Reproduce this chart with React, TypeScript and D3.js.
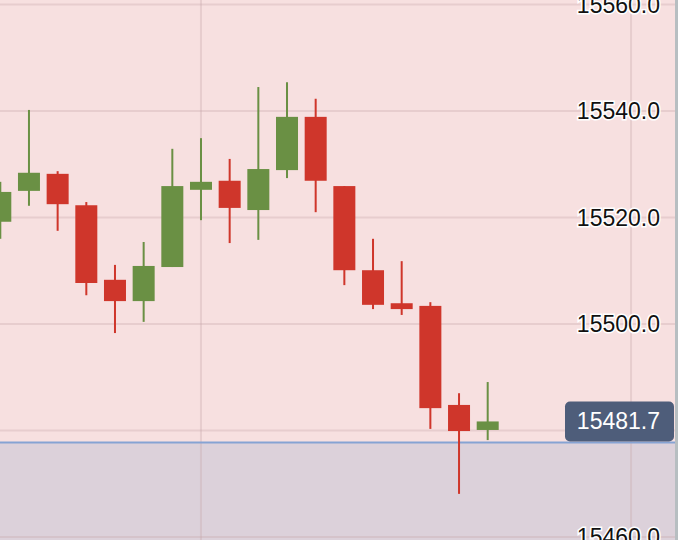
// @ts-nocheck
import React, { useEffect, useRef } from 'react'
import * as d3 from 'd3'

// candle values (oldest first)
const opens = [15519.2, 15525.0, 15528.2, 15522.3, 15508.3, 15504.3, 15510.7, 15525.2, 15526.9, 15521.4, 15528.9, 15538.9, 15525.9, 15510.1, 15503.9, 15503.4, 15484.8, 15480.1]
const highs = [15526.7, 15540.2, 15528.7, 15522.9, 15511.1, 15515.4, 15532.9, 15534.9, 15531.0, 15544.5, 15545.4, 15542.3, 15525.9, 15516.0, 15511.8, 15504.1, 15487.0, 15489.1]
const lows = [15516.0, 15522.2, 15517.5, 15505.4, 15498.3, 15500.4, 15510.7, 15519.5, 15515.2, 15515.8, 15527.4, 15521.0, 15507.3, 15502.8, 15501.7, 15480.3, 15468.1, 15478.2]
const closes = [15524.8, 15528.4, 15522.5, 15507.7, 15504.3, 15510.9, 15525.9, 15526.7, 15521.8, 15529.1, 15538.9, 15526.9, 15510.1, 15503.6, 15502.8, 15484.2, 15479.9, 15481.7]

const yTicks = [15460, 15480, 15500, 15520, 15540, 15560]
const xGridIdx = [7, 22]
const baseline = 15477.75
const lastPrice = closes[closes.length - 1]

const W = 678, H = 540

const App = () => {
    const ref = useRef(null)

    useEffect(() => {
        const svg = d3.select(ref.current)
        svg.selectAll('*').remove()

        const plotRight = 675

        const x = d3.scaleLinear([0, 17], [0.3, 487.7])
        const y = d3.scaleLinear([15460, 15560], [537, 4.5])
        const ty = y(lastPrice)

        // backgrounds
        svg.append('rect').attr('width', W).attr('height', H).attr('fill', '#f7e0e0')
        svg.append('rect')
            .attr('x', 0).attr('y', y(baseline))
            .attr('width', plotRight).attr('height', H - y(baseline))
            .attr('fill', '#dcd1da')

        // grid
        svg.append('g').selectAll('line').data(yTicks).join('line')
            .attr('x1', 0).attr('x2', plotRight)
            .attr('y1', d => y(d)).attr('y2', d => y(d))
            .attr('stroke', '#c8a8ab').attr('stroke-opacity', 0.35).attr('stroke-width', 2)
        svg.append('g').selectAll('line').data(xGridIdx).join('line')
            .attr('x1', d => x(d)).attr('x2', d => x(d))
            .attr('y1', 0).attr('y2', H)
            .attr('stroke', '#c8a8ab').attr('stroke-opacity', 0.35).attr('stroke-width', 2)

        // baseline line
        svg.append('line')
            .attr('x1', 0).attr('x2', plotRight)
            .attr('y1', y(baseline)).attr('y2', y(baseline))
            .attr('stroke', '#86a3d3').attr('stroke-width', 2)

        // candles
        const idx = d3.range(opens.length)
        const color = i => closes[i] >= opens[i] ? '#6a9044' : '#cf362b'
        const g = svg.append('g')
        g.selectAll('.wick').data(idx).join('rect')
            .attr('x', i => x(i) - 1).attr('width', 2)
            .attr('y', i => y(highs[i]))
            .attr('height', i => y(lows[i]) - y(highs[i]))
            .attr('fill', color)
        g.selectAll('.body').data(idx).join('rect')
            .attr('x', i => x(i) - 11).attr('width', 22)
            .attr('y', i => y(Math.max(opens[i], closes[i])))
            .attr('height', i => Math.max(1, Math.abs(y(opens[i]) - y(closes[i]))))
            .attr('fill', color)

        // right axis labels (the one under the price tag is hidden)
        svg.append('g').selectAll('text')
            .data(yTicks.filter(d => Math.abs(y(d) - ty) > 22))
            .join('text')
            .attr('x', 660).attr('y', d => y(d))
            .attr('text-anchor', 'end').attr('dominant-baseline', 'central')
            .attr('font-family', '"Liberation Sans", Arial, sans-serif')
            .attr('font-size', 23)
            .attr('fill', '#111')
            .attr('stroke', '#fff').attr('stroke-width', 3).attr('paint-order', 'stroke')
            .text(d => d3.format('.1f')(d))

        // last price tag
        svg.append('rect')
            .attr('x', 565).attr('y', ty - 20)
            .attr('width', 109).attr('height', 40)
            .attr('rx', 5)
            .attr('fill', '#4e5d7a')
        svg.append('text')
            .attr('x', 660).attr('y', ty)
            .attr('text-anchor', 'end').attr('dominant-baseline', 'central')
            .attr('font-family', '"Liberation Sans", Arial, sans-serif')
            .attr('font-size', 23)
            .attr('fill', '#fff')
            .text(d3.format('.1f')(lastPrice))

        // right edge border
        svg.append('rect')
            .attr('x', plotRight).attr('y', 0)
            .attr('width', W - plotRight).attr('height', H)
            .attr('fill', '#b7bec1')
    }, [])

    return <svg ref={ref} width={W} height={H}
        style={{ position: 'absolute', left: 0, top: 0, display: 'block' }} />
}

export default App
